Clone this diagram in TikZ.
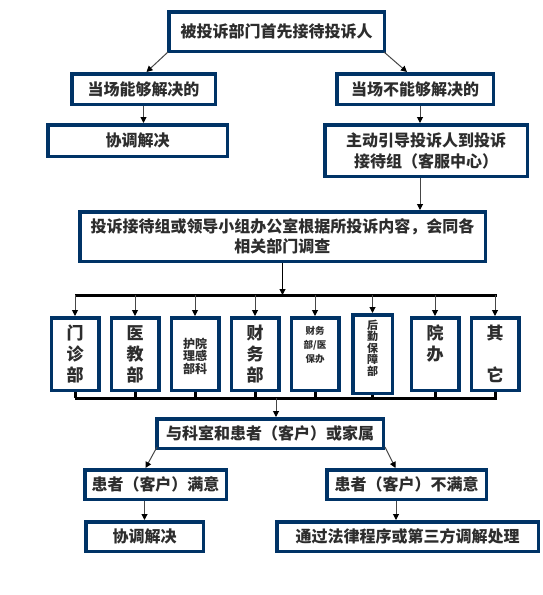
\documentclass[tikz,border=0pt]{standalone}
\usepackage{fontspec}
\setmainfont{Noto Sans CJK SC}
\usetikzlibrary{arrows.meta}
\definecolor{navy}{RGB}{0,51,102}
\definecolor{txt}{RGB}{45,45,45}
\definecolor{conn}{RGB}{70,70,70}
\tikzset{
  box/.style={draw=navy, line width=3.5pt, fill=white, inner sep=0pt, text=txt, align=center, font=\fontsize{16}{20}\selectfont\bfseries},
  dept/.style={box, minimum width=47.5pt, minimum height=72.5pt},
  arr/.style={draw=conn, line width=1pt, -{Triangle[length=6pt,width=6pt,color=black]}},
  bus/.style={draw=black, line width=3pt},
  stub/.style={draw=black, line width=3pt},
}
\begin{document}
\begin{tikzpicture}[x=1pt,y=-1pt]
\useasboundingbox (0,0) rectangle (542,595);
% top
\node[box, minimum width=215.5pt, minimum height=39.5pt] (top) at (276.5,31.5) {被投诉部门首先接待投诉人};
\node[box, minimum width=143.5pt, minimum height=30.5pt] (A1) at (143.5,89) {当场能够解决的};
\node[box, minimum width=156.5pt, minimum height=30.5pt] (A2) at (415,89) {当场不能够解决的};
\node[box, minimum width=179.5pt, minimum height=31.5pt] (B1) at (137.5,140.5) {协调解决};
\node[box, minimum width=202.5pt, minimum height=51.5pt, font=\fontsize{16}{21}\selectfont\bfseries] (B2) at (426,150.5) {主动引导投诉人到投诉\\接待组（客服中心）};
\node[box, minimum width=405.5pt, minimum height=49.5pt] (C) at (282.5,236.5) {投诉接待组或领导小组办公室根据所投诉内容，会同各\\相关部门调查};
% departments
\node[dept, font=\fontsize{17}{21}\selectfont\bfseries] (d1) at (75,354) {门\\诊\\部};
\node[dept, font=\fontsize{17}{21}\selectfont\bfseries] (d2) at (135,354) {医\\教\\部};
\node[dept] (d3) at (195,354) {};
\node[text=txt, align=center, inner sep=0pt, font=\fontsize{12}{12.5}\selectfont\bfseries] (d3t) at (195,356) {护院\\理感\\部科};
\node[dept, font=\fontsize{17}{21}\selectfont\bfseries] (d4) at (255,354) {财\\务\\部};
\node[dept] (d5) at (315,354) {};
\node[text=txt, align=center, inner sep=0pt, font=\fontsize{9.5}{14}\selectfont\bfseries] (d5t) at (315,345) {财务\\部/医\\保办};
\node[box, minimum width=39.5pt, minimum height=78.5pt] (d6) at (372.5,354) {};
\node[text=txt, align=center, inner sep=0pt, font=\fontsize{11}{11.5}\selectfont\bfseries] (d6t) at (372.5,348) {后\\勤\\保\\障\\部};
\node[dept, font=\fontsize{17}{21}\selectfont\bfseries] (d7) at (435,354) {院\\办\\\phantom{院}};
\node[dept, font=\fontsize{17}{21}\selectfont\bfseries] (d8) at (495,354) {其\\\phantom{其}\\它};
% lower
\node[box, minimum width=226.5pt, minimum height=29.5pt] (D) at (270,433.5) {与科室和患者（客户）或家属};
\node[box, minimum width=141.5pt, minimum height=29.5pt] (E1) at (155.5,484.5) {患者（客户）满意};
\node[box, minimum width=159.5pt, minimum height=29.5pt] (E2) at (406.5,484.5) {患者（客户）不满意};
\node[box, minimum width=117.5pt, minimum height=29.5pt] (F1) at (144.5,536.5) {协调解决};
\node[box, minimum width=261.5pt, minimum height=29.5pt] (F2) at (407.5,536.5) {通过法律程序或第三方调解处理};
% coordinates
\coordinate (x420) at (420,0);
\coordinate (x396) at (396,0);
\coordinate (busL) at (75,295);
\coordinate (busR) at (497,295);
\coordinate (bus2L) at (75,398);
\coordinate (bus2R) at (497,398);
\coordinate (bus2m) at (276,398);
% connectors
\draw[arr] ([xshift=1pt,yshift=1pt]top.south west) -- ([xshift=3pt]A1.north);
\draw[arr] ([xshift=-2pt,yshift=1pt]top.south east) -- ([xshift=-8pt]A2.north);
\draw[arr] (A1.south) -- (A1.south |- B1.north);
\draw[arr] (x420 |- A2.south) -- (x420 |- B2.north);
\draw[arr] (x420 |- B2.south) -- (x420 |- C.north);
\draw[bus] (busL) -- (busR);
\draw[arr, draw=black] (C.south) -- (C.south |- busL);
\foreach \n in {d1,d2,d3,d4,d5,d6,d7,d8}{
  \draw[arr] (\n.north |- busL) -- (\n.north);
}
\draw[bus] (bus2L) -- (bus2R);
\foreach \n in {d1,d2,d3,d4,d5,d6,d7,d8}{
  \draw[stub] (\n.south) -- (\n.south |- bus2L);
}
\draw[arr] (bus2m) -- (bus2m |- D.north);
\draw[arr] ([xshift=2pt,yshift=3pt]D.south west) -- ([xshift=-10pt]E1.north);
\draw[arr] ([xshift=0pt,yshift=3pt]D.south east) -- ([xshift=-11pt]E2.north);
\draw[arr] (F1.north |- E1.south) -- (F1.north);
\draw[arr] (x396 |- E2.south) -- (x396 |- F2.north);
\end{tikzpicture}
\end{document}
